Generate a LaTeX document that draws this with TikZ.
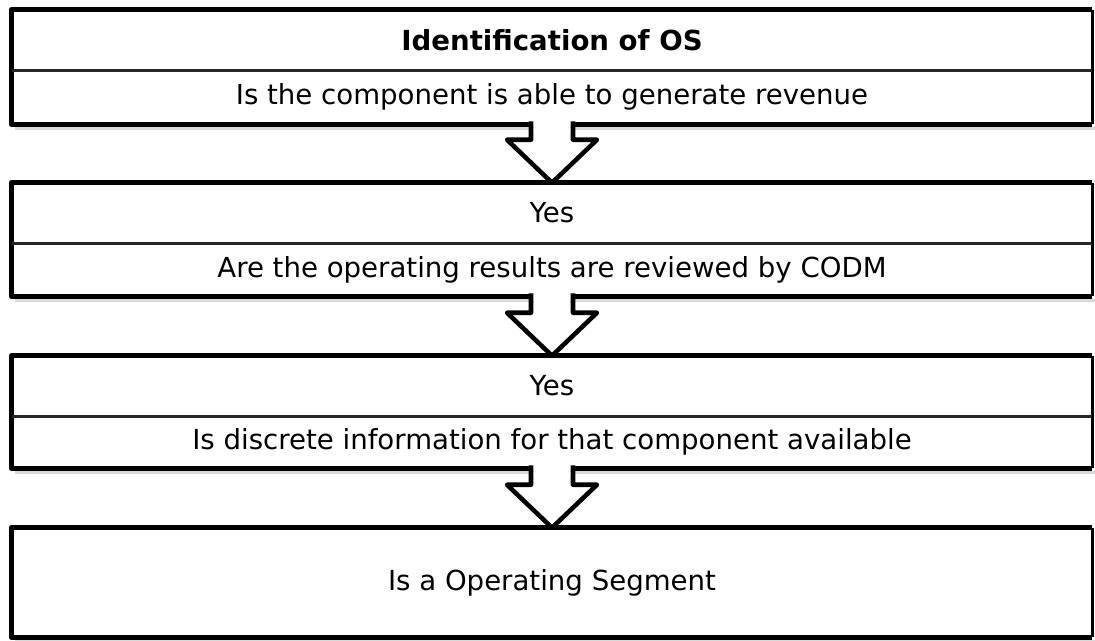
\documentclass[tikz,border=0pt]{standalone}
\usepackage{fontspec}
\setmainfont{DejaVu Sans}
\usetikzlibrary{calc}
\begin{document}
\begin{tikzpicture}[x=0.75pt, y=-0.75pt,
    row/.style={minimum width=810pt, inner sep=0pt, font=\fontsize{20.7}{24}\selectfont},
    outline/.style={line width=4pt, line join=round},
    rightside/.style={line width=2pt},
    divider/.style={line width=2.6pt, black!85},
    shade/.style={line width=2.5pt, black!15},
    blockarrow/.style={draw, fill=white, line width=3.4pt, line join=round}]
    \useasboundingbox (0,0) rectangle (1095,640);

    % 第一框
    \node[row, minimum height=45pt, font=\fontsize{20.7}{24}\selectfont\bfseries] (r1a) at (552,40) {Identification of OS};
    \node[row, minimum height=40.5pt] (r1b) at (552,97) {Is the component is able to generate revenue};

    % 第二框
    \node[row, minimum height=45pt] (r2a) at (552,213) {Yes};
    \node[row, minimum height=39.75pt] (r2b) at (552,269.5) {Are the operating results are reviewed by CODM};

    % 第三框
    \node[row, minimum height=45pt] (r3a) at (552,386) {Yes};
    \node[row, minimum height=39pt] (r3b) at (552,442) {Is discrete information for that component available};

    % 第四框
    \node[row, minimum height=81.75pt] (r4) at (552,582.5) {Is a Operating Segment};

    % 边框
    \foreach \t/\b in {r1a/r1b, r2a/r2b, r3a/r3b, r4/r4} {
        \draw[shade] ($(\b.south west)+(3,4)$) -- ($(\b.south east)+(3,4)$);
        \draw[rightside] (\t.north east) -- (\b.south east);
        \draw[outline] (\t.north east) -- (\t.north west) -- (\b.south west) -- (\b.south east);
    }
    \foreach \t in {r1a, r2a, r3a}
        \draw[divider] (\t.south west) -- (\t.south east);

    % 箭头
    \foreach \a/\b in {r1b/r2a, r2b/r3a, r3b/r4}
        \draw[blockarrow] ($(\a.south)+(-21,-3)$) -- ($(\b.north)+(-21,-43)$)
            -- ($(\b.north)+(-45,-43)$) -- (\b.north) -- ($(\b.north)+(45,-43)$)
            -- ($(\b.north)+(21,-43)$) -- ($(\a.south)+(21,-3)$);
\end{tikzpicture}
\end{document}
